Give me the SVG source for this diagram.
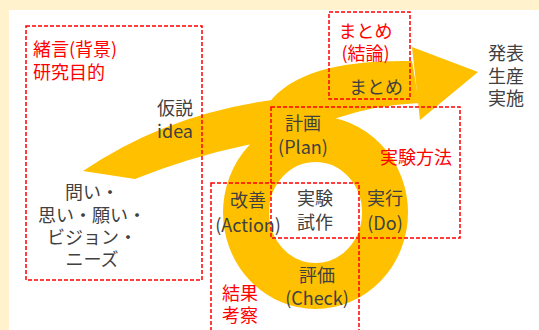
<svg xmlns="http://www.w3.org/2000/svg" width="539" height="330" viewBox="0 0 539 330">
<style>
.t{font-family:"Noto Sans CJK JP","Noto Sans",sans-serif;font-size:18px;fill:#404040;text-anchor:middle}
.r{fill:#FF0000}
.box{fill:none;stroke:#FF0000;stroke-width:1.5;stroke-dasharray:4 2}
.y{fill:#FFC000}
</style>
<rect x="0" y="0" width="539" height="330" fill="#FFF2CC"/>
<rect x="9" y="10" width="530" height="320" fill="#FFFFFF"/>
<g id="cycle-arrow">
  <path class="y" d="M83,171 Q170,112 280,99 L300,145 L265,142 L247,145 Q190,157 135,179 Z"/>
  <ellipse cx="315.5" cy="212.5" rx="69.5" ry="73.5" fill="none" stroke="#FFC000" stroke-width="46"/>
  <path class="y" d="M268,104 C292,72 340,60 412,61 L419,103 Q375,105 337,118 L300,135 Z"/>
  <polygon class="y" points="412,47 478,72 420,120"/>
</g>
<g id="boxes">
  <rect id="box-intro" class="box" x="26" y="26" width="176" height="254"/>
  <rect id="box-conclusion" class="box" x="329" y="12" width="81" height="87"/>
  <rect id="box-method" class="box" x="271" y="107" width="189" height="131"/>
  <rect id="box-results" class="box" x="211" y="183" width="148" height="160"/>
</g>
<g id="intro-label">
  <text class="t r" x="33" y="55.5" style="text-anchor:start">緒言(背景)</text>
  <text class="t r" x="33" y="78.5" style="text-anchor:start">研究目的</text>
</g>
<g id="hypothesis">
  <text class="t" x="175" y="114.5">仮説</text>
  <text class="t" x="175" y="137.5">idea</text>
</g>
<g id="conclusion-label">
  <text class="t r" x="365.5" y="37.5">まとめ</text>
  <text class="t r" x="365.5" y="59.5">(結論)</text>
</g>
<g id="summary">
  <text class="t" x="376" y="93.5">まとめ</text>
</g>
<g id="publish">
  <text class="t" x="506" y="59.5">発表</text>
  <text class="t" x="506" y="82.5">生産</text>
  <text class="t" x="506" y="104.5">実施</text>
</g>
<g id="plan">
  <text class="t" x="303" y="129.5">計画</text>
  <text class="t" x="303" y="153.5">(Plan)</text>
</g>
<g id="method-label">
  <text class="t r" x="416" y="163.5">実験方法</text>
</g>
<g id="action">
  <text class="t" x="248" y="206.5">改善</text>
  <text class="t" x="248" y="231.5">(Action)</text>
</g>
<g id="experiment">
  <text class="t" x="315" y="204.5">実験</text>
  <text class="t" x="315" y="228.5">試作</text>
</g>
<g id="do">
  <text class="t" x="385" y="204.5">実行</text>
  <text class="t" x="385" y="229.5">(Do)</text>
</g>
<g id="check">
  <text class="t" x="317" y="281.5">評価</text>
  <text class="t" x="317" y="304.5">(Check)</text>
</g>
<g id="results-label">
  <text class="t r" x="240" y="299.5">結果</text>
  <text class="t r" x="240" y="321.5">考察</text>
</g>
<g id="questions">
  <text class="t" x="92" y="198.5">問い・</text>
  <text class="t" x="92" y="221.5">思い・願い・</text>
  <text class="t" x="92" y="243.5">ビジョン・</text>
  <text class="t" x="92" y="265.5">ニーズ</text>
</g>
</svg>
